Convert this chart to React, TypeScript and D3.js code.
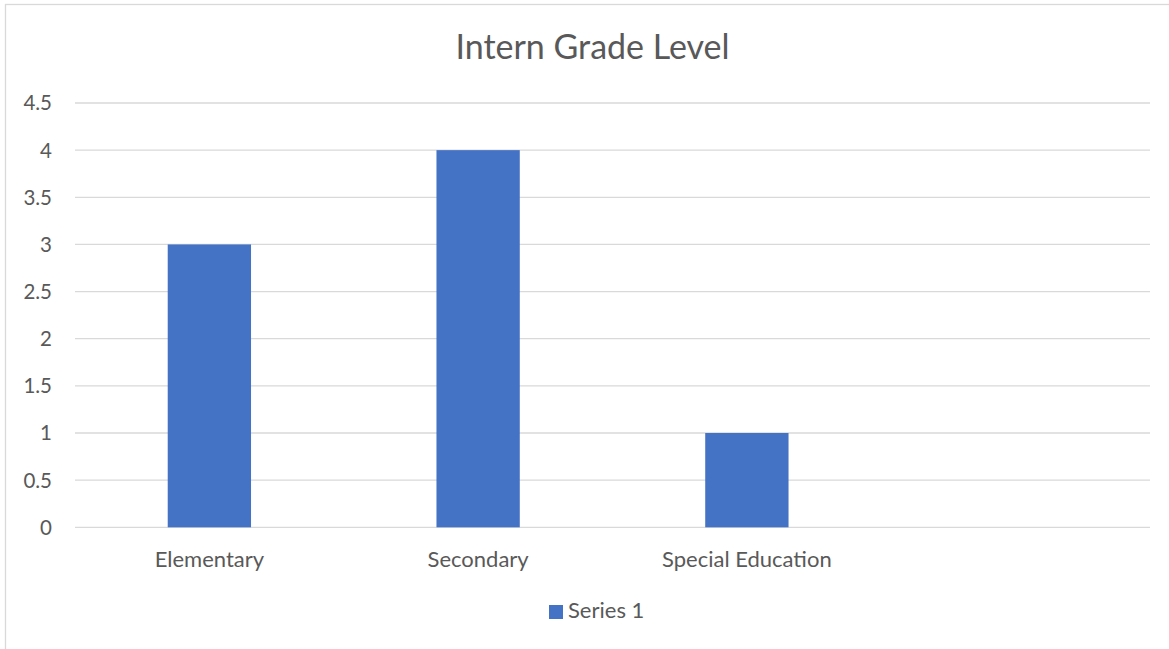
import React from "react";
import * as d3 from "d3";

const categories = ["Elementary", "Secondary", "Special Education", ""];
const series1 = [3, 4, 1, null];
const yTicks = [0, 0.5, 1, 1.5, 2, 2.5, 3, 3.5, 4, 4.5];
const title = "Intern Grade Level";
const seriesName = "Series 1";

const W = 1169;
const H = 649;
const FONT = "Lato, 'Open Sans', sans-serif";
const TEXT = "#595959";
const GRID = "#d9d9d9";
const BAR = "#4472C4";

export default function App() {
  const x = d3.scaleBand<string>().domain(categories.map((c, i) => String(i))).range([75, 1150]).paddingInner(0.69).paddingOuter(0.345);
  const y = d3.scaleLinear().domain([0, 4.5]).range([527.3, 103]);
  return (
    <svg width={W} height={H} style={{ position: "absolute", left: 0, top: 0 }} fontFamily={FONT}>
      <rect x={0} y={0} width={W} height={H} fill="#fff" />
      <rect x={5.5} y={4.5} width={W + 50} height={H + 50} fill="none" stroke={GRID} strokeWidth={1.3} />
      <text x={592.5} y={59} textAnchor="middle" fontSize={34} fill={TEXT}>{title}</text>
      {yTicks.map((t) => (
        <g key={t}>
          <line x1={75} x2={1150} y1={y(t)} y2={y(t)} stroke={GRID} strokeWidth={1.3} />
          <text x={52} y={y(t)} dy="0.36em" textAnchor="end" fontSize={20.5} fill={TEXT}>{t}</text>
        </g>
      ))}
      {series1.map((v, i) =>
        v == null ? null : (
          <rect key={i} x={x(String(i))} y={y(v)} width={x.bandwidth()} height={y(0) - y(v)} fill={BAR} />
        )
      )}
      {categories.map((c, i) => (
        <text key={i} x={(x(String(i)) as number) + x.bandwidth() / 2} y={567} textAnchor="middle" fontSize={22} fill={TEXT}>{c}</text>
      ))}
      <rect x={549} y={605} width={14} height={14} fill={BAR} />
      <text x={568} y={618} fontSize={22} fill={TEXT}>{seriesName}</text>
    </svg>
  );
}
